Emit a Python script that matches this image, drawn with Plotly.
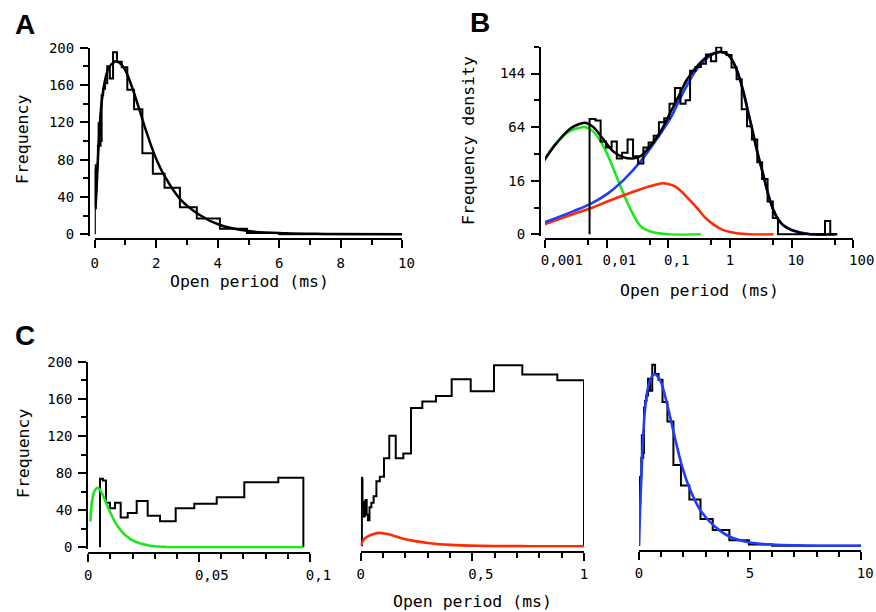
import numpy as np
import plotly.graph_objects as go

W, H = 876, 612

# ---------------- data ----------------
# log-spaced histogram of open periods: bin edges (ms) and frequency per bin
bin_edges_ms = [0.00528, 0.0066, 0.00798, 0.00979, 0.01204, 0.01461, 0.01777, 0.02183,
                0.02679, 0.03234, 0.03942, 0.04781, 0.05792, 0.07036, 0.0857, 0.1045,
                0.128, 0.157, 0.1909, 0.2253, 0.276, 0.337, 0.4075, 0.4926, 0.597,
                0.7237, 0.8805, 1.06, 1.28, 1.55, 1.89, 2.27, 2.77, 3.32, 4.07, 4.95,
                6.0, 7.3, 8.9, 10.8, 13.1, 15.9, 19.4, 23.6, 28.7, 34.8, 42.3, 51.4]
bin_freq = [74, 72, 48, 42, 48, 32, 37, 50, 34, 28, 42, 47, 54, 70, 75,
            95, 119, 95, 100, 149, 156, 162, 180, 167, 195, 185, 179,
            155, 134, 87, 65, 50, 29, 17, 6, 1.5,
            0, 0, 0, 0, 0, 0, 0, 0, 0, 1, 0]

# total fitted curve (black)
fit_total_t = [0.00092, 0.00155, 0.00255, 0.0037, 0.0047, 0.0061, 0.0089, 0.013, 0.0189,
               0.026, 0.0355, 0.052, 0.075, 0.11, 0.15, 0.2, 0.28, 0.37, 0.45, 0.6, 0.7,
               0.94, 1.2, 1.42, 1.69, 1.96, 2.28, 2.77, 3.4, 4.07, 5.0, 6.2, 7.5,
               10.0, 20.0, 55.0]
fit_total_f = [29, 46.5, 62, 68, 69, 64, 50, 38, 33,
               32, 34, 44, 59, 84, 108, 133, 155, 170, 178, 184, 185.5,
               179, 159, 137, 109, 84, 62, 38, 21, 10, 3.5, 1.1, 0.4,
               0.1, 0, 0]

# fitted components
green_t = [0.00092, 0.0015, 0.0025, 0.0035, 0.0045, 0.006, 0.008, 0.0101, 0.013, 0.0167,
           0.0213, 0.0274, 0.035, 0.05, 0.097, 0.336]
green_f = [28, 46, 59, 63, 64, 59, 48, 36.5, 23.5, 13, 6, 2, 0.4, 0.05, 0, 0]

red_t = [0.00092, 0.0029, 0.0054, 0.0101, 0.0189, 0.0355, 0.066, 0.08, 0.1, 0.13,
         0.159, 0.2, 0.25, 0.3, 0.4, 0.55, 0.75, 1.0, 2.0, 5.1]
red_f = [0.5, 2.3, 3.7, 5.9, 8.5, 11.3, 13.9, 14.5, 14.1, 12.6,
         10.5, 7.7, 5.3, 3.6, 1.5, 0.5, 0.12, 0.03, 0, 0]

blue_t = [0.00092, 0.0029, 0.0054, 0.0101, 0.0189, 0.0355, 0.066, 0.11, 0.15, 0.2, 0.27,
          0.37, 0.49, 0.6, 0.7, 0.94, 1.2, 1.42, 1.69, 1.96, 2.28, 2.77, 3.4, 4.07, 5.0,
          6.2, 7.5, 10.0, 20.0, 52.0]
blue_f = [0.7, 3.0, 5.1, 9.0, 16.5, 29.6, 51, 76, 100, 123, 147,
          166, 178, 183, 185, 179, 159, 137, 109, 84, 62, 38, 21, 10, 3.5,
          1.1, 0.4, 0.1, 0, 0]

# tick values / labels
a_xticks = [0, 2, 4, 6, 8, 10]
a_xminor = [1, 3, 5, 7, 9]
freq_ticks = [0, 40, 80, 120, 160, 200]
freq_minor = [20, 60, 100, 140, 180]
b_xticks = [0.001, 0.01, 0.1, 1, 10, 100]
b_xlabels = ["0,001", "0,01", "0,1", "1", "10", "100"]
b_xminor = [0.005, 0.05, 0.5, 5, 50]
b_yticks = [0, 16, 64, 144]
b_yminor = [4, 36, 100, 196]
cl_xticks = [0, 0.05, 0.1]
cl_xlabels = ["0", "0,05", "0,1"]
cl_xminor = [0.01, 0.02, 0.03, 0.04, 0.06, 0.07, 0.08, 0.09]
cm_xticks = [0, 0.5, 1]
cm_xlabels = ["0", "0,5", "1"]
cm_xminor = [0.1, 0.2, 0.3, 0.4, 0.6, 0.7, 0.8, 0.9]
cr_xticks = [0, 5, 10]
cr_xlabels = ["0", "5", "10"]
cr_xminor = [1, 2, 3, 4, 6, 7, 8, 9]

# data windows shown in each panel (ms)
A_MAX = 10.0
CL_MAX = 0.097
CM_MAX = 1.0
CR_MAX = 10.0

# ---------------- helpers ----------------
MONO = "DejaVu Sans Mono"
TICKFONT = dict(family=MONO, size=14, color="black")
TITLEFONT = dict(family=MONO, size=16.5, color="black")
GREEN, RED, BLUE = "#1ee61e", "#ff2a00", "#1f3cff"


def px(x):
    return x / W


def py(y):
    return 1 - y / H


def pad(s):
    return "\u00a0" * (len(s) - 1) + s


def step_xy(edges, freq, t_max=None, f=lambda v: v):
    xs, ys = [edges[0]], [f(0.0)]
    hi = edges[-1]
    for lo, up, v in zip(edges[:-1], edges[1:], freq):
        if t_max is not None and lo >= t_max:
            break
        xs.append(lo)
        ys.append(f(v))
        hi = up if t_max is None else min(up, t_max)
    xs.append(hi)
    ys.append(f(0.0))
    return xs, ys


def clip(t, v, t_max=None):
    pts = [(a, b) for a, b in zip(t, v) if t_max is None or a <= t_max]
    return [p[0] for p in pts], [p[1] for p in pts]


def xcfg(x0, x1, rng, line_y, tickvals, ticktext, minor, typ="linear", standoff=3):
    return dict(domain=[px(x0), px(x1)], range=rng, type=typ, anchor="free",
                position=py(line_y), showline=True, linecolor="black", linewidth=2,
                ticks="outside", ticklen=8, tickwidth=1.5, tickcolor="black",
                tickmode="array", tickvals=tickvals, ticktext=[pad(s) for s in ticktext],
                minor=dict(tickmode="array", tickvals=minor, ticks="outside", ticklen=5,
                           tickwidth=1.5, tickcolor="black", showgrid=False),
                showgrid=False, zeroline=False, tickfont=TICKFONT, tickangle=0,
                automargin=False, ticklabelstandoff=standoff, fixedrange=True)


def ycfg(pix0, pixtop, topval, lo, line_x, tickvals, ticktext, minor, visible=True):
    scale = (pix0 - pixtop) / topval
    bottom = pix0 - lo * scale
    return dict(domain=[py(bottom), py(pixtop)], range=[lo, topval], anchor="free",
                position=px(line_x), showline=True, linecolor="black", linewidth=2,
                ticks="outside", ticklen=8, tickwidth=1.5, tickcolor="black",
                tickmode="array", tickvals=tickvals, ticktext=ticktext,
                minor=dict(tickmode="array", tickvals=minor, ticks="outside", ticklen=5,
                           tickwidth=1.5, tickcolor="black", showgrid=False),
                showgrid=False, zeroline=False, tickfont=TICKFONT, automargin=False,
                ticklabelstandoff=3, fixedrange=True, visible=visible)


fig = go.Figure()


def line(x, y, xa, ya, color, width, shape="spline"):
    fig.add_trace(go.Scatter(x=x, y=y, xaxis=xa, yaxis=ya, mode="lines",
                             line=dict(color=color, width=width, shape=shape),
                             hoverinfo="skip", showlegend=False))


# ---------------- panel A ----------------
hx, hy = step_xy(bin_edges_ms, bin_freq, A_MAX)
line(hx, hy, "x", "y", "black", 2, "hv")
tx, tv = clip(fit_total_t, fit_total_f, A_MAX)
line(tx, tv, "x", "y", "black", 2.5)

# ---------------- panel B (sqrt density vs log time) ----------------
for ct, cf, col in [(green_t, green_f, GREEN), (red_t, red_f, RED), (blue_t, blue_f, BLUE)]:
    line(ct, list(np.sqrt(cf)), "x2", "y2", col, 2.6)
hx, hy = step_xy(bin_edges_ms, bin_freq, None, np.sqrt)
line(hx, hy, "x2", "y2", "black", 2, "hv")
line(fit_total_t, list(np.sqrt(fit_total_f)), "x2", "y2", "black", 2.5)

# ---------------- panel C ----------------
for xa, ya, tmax, ct, cf, col in [("x3", "y3", CL_MAX, green_t, green_f, GREEN),
                                   ("x4", "y4", CM_MAX, red_t, red_f, RED),
                                   ("x5", "y5", CR_MAX, blue_t, blue_f, BLUE)]:
    hx, hy = step_xy(bin_edges_ms, bin_freq, tmax)
    line(hx, hy, xa, ya, "black", 2, "hv")
    cx, cv = clip(ct, cf, tmax)
    line(cx, cv, xa, ya, col, 2.6)

# ---------------- axes ----------------
sq = lambda vals: [float(np.sqrt(v)) for v in vals]
lay = dict(
    xaxis=xcfg(94.7, 402.3, [0, 10], 239.3, a_xticks, [str(v) for v in a_xticks], a_xminor),
    yaxis=ycfg(234.3, 47.7, 200, -1.5, 89, freq_ticks, [str(v) for v in freq_ticks], freq_minor),
    xaxis2=xcfg(545, 853.3, [-3, 2], 239.3, b_xticks, b_xlabels, b_xminor, typ="log",
                standoff=0),
    yaxis2=ycfg(234.3, 46.7, float(np.sqrt(196)), -0.1, 540, sq(b_yticks),
                [str(v) for v in b_yticks], sq(b_yminor)),
    xaxis3=xcfg(88.3, 310, [0, 0.1], 553.3, cl_xticks, cl_xlabels, cl_xminor, standoff=1),
    yaxis3=ycfg(547.3, 361.7, 200, -1.5, 87.3, freq_ticks, [str(v) for v in freq_ticks], freq_minor),
    xaxis4=xcfg(360.7, 584, [0, 1], 552.3, cm_xticks, cm_xlabels, cm_xminor, standoff=1),
    yaxis4=ycfg(546.3, 360.7, 200, -1.5, 360, freq_ticks, [str(v) for v in freq_ticks],
                freq_minor, visible=False),
    xaxis5=xcfg(639, 861, [0, 10], 551, cr_xticks, cr_xlabels, cr_xminor, standoff=1),
    yaxis5=ycfg(545.8, 360.2, 200, -1.5, 638, freq_ticks, [str(v) for v in freq_ticks],
                freq_minor, visible=False),
)
fig.update_layout(**lay)


def ann(text, x, y, font, angle=0):
    fig.add_annotation(text=text, x=px(x), y=py(y), xref="paper", yref="paper",
                       xanchor="center", yanchor="middle", showarrow=False,
                       textangle=angle, font=font)


ann("Frequency", 23, 140, TITLEFONT, -90)
ann("Open period (ms)", 249, 282, TITLEFONT)
ann("Frequency density", 469, 140, TITLEFONT, -90)
ann("Open period (ms)", 699, 290, TITLEFONT)
ann("Frequency", 23, 454, TITLEFONT, -90)
ann("Open period (ms)", 472.5, 601, TITLEFONT)
LETTER = dict(family="Liberation Sans", size=28, color="black")
ann("<b>A</b>", 25, 25, LETTER)
ann("<b>B</b>", 480, 23, LETTER)
ann("<b>C</b>", 25, 335, LETTER)

fig.update_layout(width=W, height=H, margin=dict(l=0, r=0, t=0, b=0),
                  paper_bgcolor="white", plot_bgcolor="rgba(0,0,0,0)",
                  showlegend=False)

fig.write_html("out.html")
